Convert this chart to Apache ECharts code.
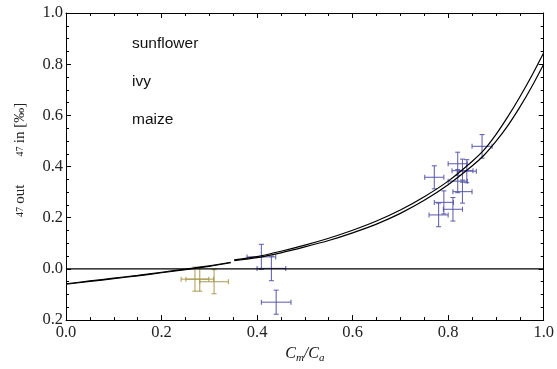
<!DOCTYPE html>
<html>
<head>
<meta charset="utf-8">
<script src="https://cdn.jsdelivr.net/npm/echarts@6/dist/echarts.min.js"></script>
<style>
  html, body { margin: 0; padding: 0; background: #fff; }
  #chart { width: 557px; height: 369px; }
</style>
</head>
<body>
<div id="chart"></div>
<script>
// model curves (two lines, with a small break near 0.35)
var curveX1 = [0, 0.05, 0.1, 0.15, 0.2, 0.25, 0.3, 0.345];
var upper1 = [-0.058, -0.047, -0.036, -0.025, -0.013, -0.001, 0.012, 0.026];
var lower1 = [-0.060, -0.049, -0.038, -0.027, -0.015, -0.003, 0.010, 0.024];
var curveX2 = [0.352, 0.4, 0.45, 0.5, 0.55, 0.6, 0.65, 0.7, 0.75, 0.8, 0.85, 0.875, 0.9, 0.925, 0.95, 0.975, 1.0];
var upper2 = [0.035, 0.048, 0.069, 0.093, 0.120, 0.151, 0.187, 0.230, 0.282, 0.343, 0.420, 0.465, 0.525, 0.595, 0.672, 0.755, 0.845];
var lower2 = [0.032, 0.044, 0.063, 0.086, 0.111, 0.141, 0.175, 0.217, 0.268, 0.329, 0.402, 0.444, 0.498, 0.560, 0.632, 0.712, 0.800];

// measurements: x, y, x error, y error
var sunflowerX = [0.771, 0.871, 0.820, 0.830, 0.839, 0.820, 0.830, 0.791, 0.810, 0.780];
var sunflowerY = [0.358, 0.479, 0.411, 0.384, 0.382, 0.343, 0.302, 0.260, 0.233, 0.211];
var sunflowerXErr = [0.020, 0.021, 0.020, 0.022, 0.020, 0.020, 0.020, 0.020, 0.020, 0.020];
var sunflowerYErr = [0.045, 0.046, 0.045, 0.045, 0.045, 0.045, 0.045, 0.045, 0.046, 0.046];

var ivyX = [0.409, 0.430, 0.440];
var ivyY = [0.047, 0.002, -0.130];
var ivyXErr = [0.030, 0.030, 0.031];
var ivyYErr = [0.049, 0.048, 0.047];

var maizeX = [0.270, 0.280, 0.310];
var maizeY = [-0.040, -0.040, -0.050];
var maizeXErr = [0.029, 0.029, 0.030];
var maizeYErr = [0.047, 0.047, 0.047];

var zeroLineX = [0, 1];
var zeroLineY = [0, 0];

var legendNames = ['sunflower', 'ivy', 'maize'];

var blue = '#5656a8';
var olive = '#a8994f';
var serif = 'Liberation Serif';

function pairs(xs, ys) {
    return xs.map(function (x, i) { return [x, ys[i]]; });
}
function brokenLine(xa, ya, xb, yb) {
    // '-' item breaks the line between the two pieces
    return pairs(xa, ya).concat([[(xa[xa.length - 1] + xb[0]) / 2, '-']]).concat(pairs(xb, yb));
}
function errData(xs, ys, ex, ey) {
    return xs.map(function (x, i) { return [x, ys[i], ex[i], ey[i]]; });
}
function renderCross(params, api) {
    var x = api.value(0), y = api.value(1), dx = api.value(2), dy = api.value(3);
    var l = api.coord([x - dx, y]), r = api.coord([x + dx, y]);
    var t = api.coord([x, y + dy]), b = api.coord([x, y - dy]);
    var cap = 2.5;
    var style = { stroke: api.visual('color'), lineWidth: 1.1, opacity: 0.9 };
    function seg(x1, y1, x2, y2) {
        return { type: 'line', shape: { x1: x1, y1: y1, x2: x2, y2: y2 }, style: style };
    }
    return {
        type: 'group',
        children: [
            seg(l[0], l[1], r[0], r[1]),
            seg(t[0], t[1], b[0], b[1]),
            seg(l[0], l[1] - cap, l[0], l[1] + cap),
            seg(r[0], r[1] - cap, r[0], r[1] + cap),
            seg(t[0] - cap, t[1], t[0] + cap, t[1]),
            seg(b[0] - cap, b[1], b[0] + cap, b[1])
        ]
    };
}

var myChart = echarts.init(document.getElementById('chart'));

var axisLine = { onZero: false, lineStyle: { color: '#000', width: 1 } };
var majorTick = { inside: true, length: 5, lineStyle: { color: '#000' } };
var minorTick = { show: true, splitNumber: 4, length: 3, lineStyle: { color: '#000' } };

var option = {
    animation: false,
    backgroundColor: '#fff',
    grid: { left: 66, right: 10, top: 13, bottom: 45 },
    legend: {
        data: legendNames,
        orient: 'vertical',
        left: 122,
        top: 31,
        itemWidth: 0,
        itemHeight: 0,
        itemGap: 22,
        selectedMode: false,
        textStyle: { fontFamily: 'Liberation Sans', fontSize: 15.5, color: '#111', lineHeight: 16 }
    },
    xAxis: [{
        type: 'value', min: 0, max: 1, interval: 0.2,
        axisLine: axisLine, axisTick: majorTick, minorTick: minorTick,
        splitLine: { show: false },
        axisLabel: {
            margin: 4, color: '#222', fontFamily: serif, fontSize: 16.5,
            formatter: function (v) { return v.toFixed(1); }
        },
        name: '{i|C}{s|m}{i|/C}{s|a}',
        nameLocation: 'middle',
        nameGap: 22,
        nameTextStyle: {
            rich: {
                i: { fontFamily: serif, fontStyle: 'italic', fontSize: 16, lineHeight: 20, color: '#111' },
                s: { fontFamily: serif, fontStyle: 'italic', fontSize: 11, lineHeight: 12, verticalAlign: 'bottom', color: '#111' }
            }
        }
    }, {
        type: 'value', min: 0, max: 1, interval: 0.2, position: 'top',
        axisLine: axisLine, axisTick: majorTick, minorTick: minorTick,
        splitLine: { show: false }, axisLabel: { show: false }
    }],
    yAxis: [{
        type: 'value', min: -0.2, max: 1.0, interval: 0.2,
        axisLine: axisLine, axisTick: majorTick, minorTick: minorTick,
        splitLine: { show: false },
        axisLabel: {
            margin: 3, color: '#222', fontFamily: serif, fontSize: 16.5,
            formatter: function (v) { return Math.abs(v).toFixed(1); }
        },
        name: '    {s|47} {t|out}{g| }{s|47} {t|in [‰]}',
        nameLocation: 'middle',
        nameRotate: 90,
        nameGap: 38,
        nameTextStyle: {
            rich: {
                s: { fontFamily: serif, fontSize: 10, color: '#222' },
                t: { fontFamily: serif, fontSize: 15, color: '#222' },
                g: { width: 28 }
            }
        }
    }, {
        type: 'value', min: -0.2, max: 1.0, interval: 0.2, position: 'right',
        axisLine: axisLine, axisTick: majorTick, minorTick: minorTick,
        splitLine: { show: false }, axisLabel: { show: false }
    }],
    series: [{
        name: 'zero', type: 'line', data: pairs(zeroLineX, zeroLineY),
        showSymbol: false, silent: true,
        lineStyle: { color: '#000', width: 1.2 }
    }, {
        name: 'model upper', type: 'line', data: brokenLine(curveX1, upper1, curveX2, upper2),
        showSymbol: false, smooth: 0.25, connectNulls: false, silent: true,
        lineStyle: { color: '#000', width: 1.2 }
    }, {
        name: 'model lower', type: 'line', data: brokenLine(curveX1, lower1, curveX2, lower2),
        showSymbol: false, smooth: 0.25, connectNulls: false, silent: true,
        lineStyle: { color: '#000', width: 1.2 }
    }, {
        name: 'sunflower', type: 'custom', renderItem: renderCross,
        itemStyle: { color: blue },
        data: errData(sunflowerX, sunflowerY, sunflowerXErr, sunflowerYErr)
    }, {
        name: 'ivy', type: 'custom', renderItem: renderCross,
        itemStyle: { color: blue },
        data: errData(ivyX, ivyY, ivyXErr, ivyYErr)
    }, {
        name: 'maize', type: 'custom', renderItem: renderCross,
        itemStyle: { color: olive },
        data: errData(maizeX, maizeY, maizeXErr, maizeYErr)
    }]
};

myChart.setOption(option);
</script>
</body>
</html>
